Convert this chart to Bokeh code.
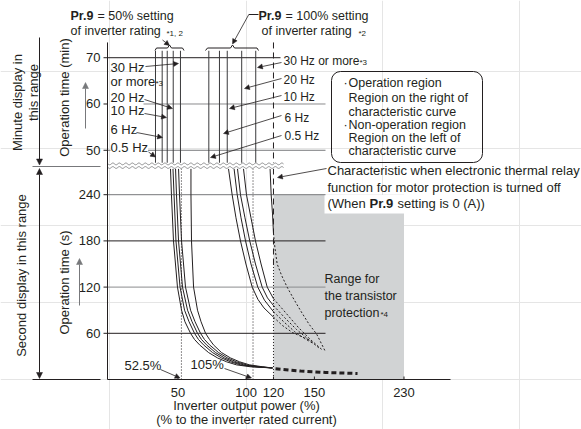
import numpy as np
from bokeh.plotting import figure
from bokeh.models import Range1d, ColumnDataSource, Arrow, NormalHead, BoxAnnotation
from bokeh.core.properties import value
from bokeh.embed import file_html
from bokeh.resources import INLINE

# ===================== chart values =====================
X_TICKS = [50, 100, 120, 150, 230]
X_TICK_LABELS = ["50", "100", "120", "150", "230"]
SEC_TICKS = [240, 180, 120, 60]
SEC_TICK_LABELS = ["240", "180", "120", "60"]
MIN_TICKS = [70, 60, 50]
MIN_TICK_LABELS = ["70", "60", "50"]

# minute range: vertical characteristic lines (% of rated current), 0.5/6/10/20/30 Hz
MIN_LINE_50 = [33.5, 38.4, 42.1, 46.5, 51.8]
MIN_LINE_100 = [72.6, 80.4, 86.1, 96.7, 107.0]

# second range, Pr.9 = 50 %  (operation time in s, output in %)
SEC_50 = [274, 240, 180, 120, 90, 75, 60, 52, 45, 35, 28, 23, 19, 16.5, 15]
PCT_50_05HZ = [44.5, 45.2, 46.7, 49.6, 52.6, 55.1, 59.2, 62.1, 65.8, 72.4, 79.0, 85.6, 92.9, 103.2, 119.3]
PCT_50_6HZ = [46.3, 47.1, 48.5, 51.5, 54.8, 58.1, 62.1, 65.0, 68.7, 75.3, 81.9, 88.5, 95.8, 106.1, 119.3]
PCT_50_10HZ = [48.2, 48.9, 50.4, 53.3, 57.0, 60.3, 64.3, 67.2, 70.9, 77.5, 84.1, 90.7, 98.0, 108.3, 119.3]
PCT_50_20HZ = [50.4, 51.1, 52.6, 55.5, 59.2, 62.5, 66.5, 69.4, 73.1, 79.7, 86.3, 92.9, 100.2, 109.8, 119.3]
PCT_50_30HZ = [59.5, 59.5, 59.9, 61.4, 64.3, 66.9, 70.2, 73.1, 76.0, 81.9, 88.5, 95.1, 102.4, 112.0, 119.3]

# second range, Pr.9 = 100 %
SEC_100_05HZ = [274, 240, 210, 180, 150, 120, 104, 93, 81]
PCT_100_05HZ = [87.0, 89.7, 92.5, 95.8, 99.8, 104.4, 108.6, 113.0, 120.0]
SEC_100_6HZ = [274, 240, 210, 180, 150, 120, 103, 88]
PCT_100_6HZ = [91.1, 93.4, 96.2, 99.5, 103.5, 108.5, 113.4, 120.0]
SEC_100_10HZ = [274, 240, 210, 180, 150, 120, 106, 96]
PCT_100_10HZ = [93.6, 95.8, 99.1, 102.6, 106.8, 111.7, 115.6, 120.0]
SEC_100_20HZ = [274, 240, 210, 180, 150, 120, 105]
PCT_100_20HZ = [98.0, 100.2, 103.5, 106.8, 110.9, 115.4, 120.0]
SEC_100_30HZ = [274, 240, 215, 190]
PCT_100_30HZ = [117.5, 118.3, 119.3, 120.0]

# continuation inside the transistor protection range (dashed)
SEC_TP_05HZ = [81, 70.1, 61, 55.8, 50.6]
PCT_TP_05HZ = [120, 126.6, 133.9, 140.5, 147.1]
SEC_TP_6HZ = [88, 75.3, 62.3, 53.2, 46.4]
PCT_TP_6HZ = [120, 127.3, 135.4, 142.7, 149.6]
SEC_TP_10HZ = [96, 80.5, 64.9, 53.2, 41.2]
PCT_TP_10HZ = [120, 128.1, 136.9, 144.9, 153.9]
SEC_TP_20HZ = [105, 87, 67.5, 51.9, 38.6]
PCT_TP_20HZ = [120, 128.8, 138.3, 147.1, 156.9]
SEC_TP_30HZ = [190, 172, 150, 135, 120, 104, 89, 72, 59, 36]
PCT_TP_30HZ = [120, 121, 122.7, 126, 130, 135, 140, 146, 152, 159.9]

# electronic thermal relay turned off
SEC_OFF = [13.9, 11.0, 9.1, 7.8]
PCT_OFF = [121.5, 140, 160, 188.5]

MARK_PCT = [52.5, 105]
MARK_LABELS = ["52.5%", "105%"]
PROTECT_FROM, PROTECT_TO, PROTECT_SEC = 120, 230, 240
MIN_TOP, MIN_BREAK, SEC_BREAK = 71.5, 47.2, 274
AXIS_TOP_MIN = 73.3

# ===================== scales / helpers =====================
TEXT = "#231f20"
GRAYFILL = "#d1d3d4"
MID = "#77787b"
FONT = value("Liberation Sans")


def _vec(f):
    def g(v):
        if np.ndim(v) == 0:
            return float(f(float(v)))
        return [float(f(float(t))) for t in v]
    return g


X = _vec(lambda v: v if v <= 150 else 150 + (v - 150) * 0.821)   # compressed above 150 %
M = _vec(lambda m: 297.7 + (m - 50) * 6.01)                       # minute section of the broken axis
PX = _vec(lambda px: 50 + (px - 177.5) / 1.364)                   # layout helpers (page pixels)
PY = _vec(lambda py: (379 - py) / 0.77)

W, H = 581, 429
p = figure(width=W, height=H, x_range=Range1d(PX(0), PX(W)),
           y_range=Range1d(PY(H), PY(0)), output_backend="svg",
           toolbar_location=None, title=None, x_axis_location=None,
           y_axis_location=None, min_border=0)
p.outline_line_color = None
p.background_fill_color = "white"
p.border_fill_color = "white"

AX = PX(107)

# transistor protection range
p.quad(left=[X(PROTECT_FROM)], right=[X(PROTECT_TO)], bottom=[0], top=[PROTECT_SEC],
       fill_color=GRAYFILL, line_color=None)
p.quad(left=[PX(324)], right=[PX(412)], bottom=[PY(213)], top=[PY(194.5)],
       fill_color="white", line_color=None)

# horizontal grid lines
hy = M(MIN_TICKS) + SEC_TICKS
hx0 = [AX, PX(143), AX] + [AX] * 4
hx1 = [PX(280), PX(325), PX(325)] + [PX(325)] * 4
hcol = [TEXT, "#8a8b8d", MID, MID, TEXT, "#8a8b8d", TEXT]
p.segment(x0=hx0, y0=hy, x1=hx1, y1=hy, line_color=hcol, line_width=1)

# axes
p.segment(x0=[AX], y0=[M(AXIS_TOP_MIN)], x1=[AX], y1=[0], line_color=TEXT, line_width=1)
p.segment(x0=[AX], y0=[0], x1=[PX(450)], y1=[0], line_color=TEXT, line_width=1)
p.segment(x0=[PX(103)] * 7, y0=hy, x1=[AX] * 7, y1=hy, line_color=TEXT, line_width=1)
p.segment(x0=X(X_TICKS), y0=[0] * 5, x1=X(X_TICKS), y1=[PY(376)] * 5, line_color=TEXT, line_width=1)

# 52.5 % / 105 % dotted markers
p.segment(x0=X(MARK_PCT), y0=[SEC_BREAK] * 2, x1=X(MARK_PCT), y1=[0] * 2,
          line_color=TEXT, line_width=1, line_dash="1 2")
# 120 % line
p.segment(x0=[X(120)], y0=[M(AXIS_TOP_MIN)], x1=[X(120)], y1=[M(MIN_BREAK)],
          line_color=TEXT, line_width=1, line_dash="6 4")
p.segment(x0=[X(120)], y0=[SEC_BREAK], x1=[X(120)], y1=[150],
          line_color=TEXT, line_width=1, line_dash="6 4")
p.segment(x0=[X(120)], y0=[150], x1=[X(120)], y1=[0],
          line_color=TEXT, line_width=1, line_dash="1 2")

# minute-range vertical lines
for xs in (MIN_LINE_50, MIN_LINE_100):
    p.segment(x0=X(xs), y0=[M(MIN_TOP)] * 5, x1=X(xs), y1=[M(MIN_BREAK)] * 5,
              line_color="#3a3a3c", line_width=1)

# second-range curves
for pct in (PCT_50_05HZ, PCT_50_6HZ, PCT_50_10HZ, PCT_50_20HZ, PCT_50_30HZ):
    p.line(X(pct), SEC_50, line_color=TEXT, line_width=1, line_join="round")
for pct, sec in ((PCT_100_05HZ, SEC_100_05HZ), (PCT_100_6HZ, SEC_100_6HZ),
                 (PCT_100_10HZ, SEC_100_10HZ), (PCT_100_20HZ, SEC_100_20HZ),
                 (PCT_100_30HZ, SEC_100_30HZ)):
    p.line(X(pct), sec, line_color=TEXT, line_width=1, line_join="round")
for pct, sec in ((PCT_TP_05HZ, SEC_TP_05HZ), (PCT_TP_6HZ, SEC_TP_6HZ),
                 (PCT_TP_10HZ, SEC_TP_10HZ), (PCT_TP_20HZ, SEC_TP_20HZ),
                 (PCT_TP_30HZ, SEC_TP_30HZ)):
    p.line(X(pct), sec, line_color=TEXT, line_width=1, line_dash="2 2")
p.line(X(PCT_OFF), SEC_OFF, line_color=TEXT, line_width=3, line_dash="5 3")

# axis break (decorative wavy lines)
p.quad(left=[PX(107.7)], right=[PX(284)], top=[PY(162.3)], bottom=[PY(168.3)],
       fill_color="white", line_color=None)
wx = np.arange(107.5, 283.01, 0.5)
for base in (163.4, 167.0):
    wy = base + 0.9 * np.sin(2 * np.pi * (wx - 107.5) / 6.5)
    p.line(PX(wx), PY(wy), line_color="#8a8b8d", line_width=1)

# left brackets
p.segment(x0=PX([32, 32]), y0=PY([166, 379]), x1=PX([100, 100]), y1=PY([166, 379]),
          line_color=[MID, TEXT], line_width=1)

# braces
BX = [154.5, 156, 167, 169, 171, 182, 183.5]
BY = [50, 47.5, 47.5, 44.5, 47.5, 47.5, 50]
p.line(PX(BX), PY(BY), line_color=TEXT, line_width=1)
BX2 = [205, 207, 230, 232, 234, 256.5, 258]
p.line(PX(BX2), PY(BY), line_color=TEXT, line_width=1)
p.line(PX([258, 248.3]), PY([14, 14]), line_color=TEXT, line_width=1)

# rounded legend box
p.add_layout(BoxAnnotation(left=PX(331), right=PX(482), top=PY(71), bottom=PY(162),
                           fill_color=None, fill_alpha=0, line_color=TEXT, line_alpha=1.0,
                           line_width=1, border_radius=9))


def txt(s, px, py, size=13, bold=False, align="left", angle=0.0, color=TEXT, bg=None):
    kw = {}
    if bg:
        kw["background_fill_color"] = bg
    p.text(x=[PX(px)], y=[PY(py)], text=[s], text_font=FONT, text_font_size=f"{size}px",
           text_font_style="bold" if bold else "normal", text_align=align,
           text_baseline="middle", angle=angle, text_color=color, **kw)


# tick labels
p.text(x=[PX(100)] * 7, y=hy, text=MIN_TICK_LABELS + SEC_TICK_LABELS, text_font=FONT,
       text_font_size="13px", text_align="right", text_baseline="middle", text_color=TEXT)
p.text(x=X(X_TICKS), y=[PY(392)] * 5, text=X_TICK_LABELS, text_font=FONT,
       text_font_size="13px", text_align="center", text_baseline="middle", text_color=TEXT)
txt("Inverter output power (%)", 246, 405, align="center")
txt("(% to the inverter rated current)", 246, 419, align="center")

# rotated axis texts
R = np.pi / 2
txt("Minute display in", 17, 102, align="center", angle=R)
txt("this range", 32.5, 92, align="center", angle=R)
txt("Operation time (min)", 64, 97, align="center", angle=R)
txt("Second display in this range", 21, 275, align="center", angle=R)
txt("Operation time (s)", 64, 282, align="center", angle=R)

# top titles
txt("Pr.9", 70, 15, 12.5, bold=True)
txt("= 50% setting", 97, 15, 12.5)
txt("of inverter rating", 70, 30, 12.5)
txt("*1, 2", 166, 32.5, 8)
txt("Pr.9", 258, 15, 12.5, bold=True)
txt("= 100% setting", 285, 15, 12.5)
txt("of inverter rating", 261, 30, 12.5)
txt("*2", 358, 32.5, 8)

# 50 % group labels
txt("30 Hz", 110, 67)
txt("or more", 110, 81)
txt("*3", 155, 83, 8)
txt("20 Hz", 110, 97)
txt("10 Hz", 110, 110)
txt("6 Hz", 110, 129)
txt("0.5 Hz", 110, 146.5, bg="white")
# 100 % group labels
txt("30 Hz or more", 283, 60, 12)
txt("*3", 359, 62, 8)
txt("20 Hz", 283, 79, 12)
txt("10 Hz", 283, 96, 12)
txt("6 Hz", 284, 117, 12)
txt("0.5 Hz", 284, 135, 12)

# legend box texts
txt("\u00b7", 343, 82, 12.5)
txt("\u00b7", 343, 124, 12.5)
for s, y in (("Operation region", 82), ("Region on the right of", 97),
             ("characteristic curve", 111), ("Non-operation region", 124),
             ("Region on the left of", 137), ("characteristic curve", 150)):
    txt(s, 348, y, 12.5)

# thermal relay off note
txt("Characteristic when electronic thermal relay", 327, 170, 13)
txt("function for motor protection is turned off", 327, 187, 13)
txt("(When", 327, 203, 13)
txt("Pr.9", 369, 203, 13, bold=True)
txt("setting is 0 (A))", 397, 203, 13)

# transistor protection note
txt("Range for", 324, 278, 12.5)
txt("the transistor", 324, 295, 12.5)
txt("protection", 324, 312, 12.5)
txt("*4", 380, 314, 8)

# marker labels
txt(MARK_LABELS[0], 124, 365)
txt(MARK_LABELS[1], 190, 364)


def arrows(segs, color=TEXT, size=5, lw=0.8, both=False):
    src = ColumnDataSource(dict(x0=PX([s[0] for s in segs]), y0=PY([s[1] for s in segs]),
                                x1=PX([s[2] for s in segs]), y1=PY([s[3] for s in segs])))
    mk = lambda: NormalHead(size=size, fill_color=color, line_color=color, line_width=0.5)
    p.add_layout(Arrow(end=mk(), start=mk() if both else None, x_start="x0", y_start="y0",
                       x_end="x1", y_end="y1", source=src, line_color=color, line_width=lw))


arrows([
    (145, 66, 178, 63), (144, 99, 172, 108), (144, 113, 166, 117), (136, 132, 162, 137),
    (148, 151.5, 155, 156.5),
    (281, 62, 257, 67), (281, 78, 244, 88), (281, 95, 229, 108), (281, 115, 223, 133),
    (281, 135, 210, 157),
    (162, 39.5, 169, 45), (248.3, 14, 232, 43.5),
    (326, 168, 277, 177),
    (160, 369, 179.5, 377.5), (224, 368, 251, 377.5),
])
arrows([(85, 128, 85, 82), (79, 305, 79, 258)], color=MID, size=6, lw=1)
arrows([(39, 37, 39, 164.5)], size=6, lw=1)
arrows([(39, 168, 39, 378)], size=6, lw=1, both=True)

open("out.html", "w").write(file_html(p, INLINE))
